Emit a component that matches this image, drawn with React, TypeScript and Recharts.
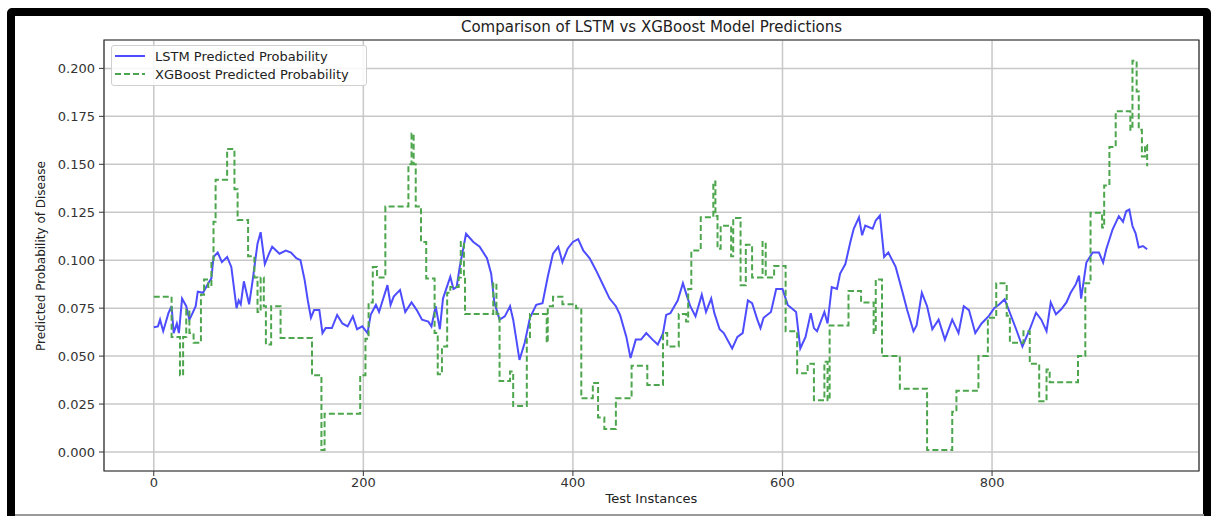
import { LineChart, Line, XAxis, YAxis, CartesianGrid, ReferenceArea } from 'recharts'

// test instance index / LSTM probability
const lstmIdx = [
  0, 4, 6, 9, 14, 17, 19, 22, 24, 27, 31, 34, 37, 40, 42, 47, 52, 55, 57, 61,
  65, 70, 74, 79, 81, 83, 86, 91, 94, 99, 102, 106, 110, 113, 120, 126, 131, 136, 140, 144,
  147, 150, 153, 158, 161, 164, 170, 175, 180, 185, 190, 194, 199, 204, 207, 212, 215, 223, 226, 229,
  235, 240, 246, 251, 256, 262, 265, 269, 273, 276, 283, 286, 289, 292, 298, 305, 311, 318, 322, 325,
  330, 335, 340, 343, 346, 349, 354, 359, 365, 371, 376, 381, 386, 390, 395, 400, 405, 410, 416, 422,
  428, 435, 441, 445, 451, 455, 460, 465, 470, 476, 481, 486, 489, 493, 500, 505, 509, 512, 517, 523,
  527, 532, 535, 540, 544, 552, 557, 562, 567, 571, 576, 579, 582, 589, 594, 600, 605, 613, 617, 622,
  627, 630, 633, 640, 643, 647, 652, 655, 660, 665, 668, 673, 676, 679, 686, 689, 693, 697, 701, 708,
  714, 719, 725, 728, 733, 738, 743, 749, 755, 762, 768, 773, 778, 784, 790, 797, 802, 807, 812, 817,
  823, 829, 836, 842, 847, 852, 856, 861, 866, 871, 875, 880, 883, 885, 890, 896, 902, 906, 909, 915,
  921, 925, 928, 931, 934, 937, 940, 944, 948,
]
const lstmProb = [
  0.065, 0.0655, 0.069, 0.063, 0.0724, 0.076, 0.062, 0.067, 0.062, 0.08, 0.076, 0.069, 0.0724, 0.076, 0.0836, 0.083, 0.088, 0.0905, 0.1017, 0.104,
  0.099, 0.1017, 0.0965, 0.075, 0.079, 0.077, 0.089, 0.077, 0.088, 0.1086, 0.1146, 0.098, 0.1034, 0.107, 0.1034, 0.105, 0.104, 0.101, 0.1, 0.0896,
  0.079, 0.07, 0.074, 0.074, 0.062, 0.0646, 0.0646, 0.0715, 0.067, 0.0655, 0.0707, 0.064, 0.0655, 0.062, 0.0715, 0.0767, 0.073, 0.087, 0.0767, 0.081,
  0.0845, 0.073, 0.078, 0.074, 0.069, 0.068, 0.0655, 0.076, 0.064, 0.08, 0.0914, 0.085, 0.086, 0.0965, 0.1138, 0.1095, 0.107, 0.101, 0.093, 0.078,
  0.069, 0.0707, 0.076, 0.069, 0.0586, 0.048, 0.057, 0.07, 0.0767, 0.0776, 0.0914, 0.1034, 0.107, 0.099, 0.106, 0.1095, 0.111, 0.105, 0.101, 0.0948,
  0.088, 0.08, 0.076, 0.0715, 0.06, 0.049, 0.0586, 0.0586, 0.062, 0.0586, 0.056, 0.062, 0.0715, 0.0724, 0.079, 0.088, 0.081, 0.076, 0.0707, 0.082,
  0.073, 0.08, 0.0724, 0.064, 0.062, 0.054, 0.06, 0.062, 0.079, 0.0776, 0.069, 0.0646, 0.07, 0.073, 0.085, 0.085, 0.0767, 0.073, 0.054, 0.06,
  0.0724, 0.0646, 0.063, 0.073, 0.067, 0.086, 0.085, 0.093, 0.098, 0.11, 0.1164, 0.1224, 0.113, 0.118, 0.1164, 0.1207, 0.1233, 0.1017, 0.104, 0.0965,
  0.0845, 0.074, 0.063, 0.066, 0.083, 0.076, 0.064, 0.069, 0.0586, 0.069, 0.062, 0.076, 0.074, 0.062, 0.067, 0.071, 0.075, 0.077, 0.0796, 0.0726,
  0.064, 0.055, 0.064, 0.0726, 0.069, 0.063, 0.078, 0.0718, 0.0744, 0.078, 0.083, 0.0875, 0.092, 0.08, 0.0988, 0.104, 0.104, 0.0988, 0.1057, 0.116,
  0.123, 0.12, 0.1255, 0.1264, 0.1178, 0.114, 0.1066, 0.1074, 0.1057,
]

// XGBoost output is piecewise constant: index where each level starts
const xgbIdx = [
  0, 17, 25, 28, 31, 34, 38, 45, 48, 52, 55, 57, 59, 70, 77, 80, 90, 96, 99, 102,
  105, 107, 112, 121, 151, 160, 163, 197, 202, 205, 209, 213, 221, 243, 246, 248, 250, 255, 260, 268,
  271, 275, 280, 283, 291, 293, 296, 297, 324, 327, 330, 340, 343, 356, 359, 375, 376, 381, 390, 403,
  408, 419, 424, 430, 441, 456, 471, 486, 490, 501, 508, 510, 513, 522, 534, 536, 538, 541, 551, 553,
  560, 565, 571, 581, 584, 592, 603, 614, 624, 630, 640, 643, 645, 663, 675, 687, 689, 695, 712, 738,
  762, 766, 787, 796, 804, 814, 817, 830, 836, 845, 852, 855, 882, 889, 894, 905, 907, 912, 918, 932,
  934, 938, 940, 943, 946, 948,
]
const xgbProb = [
  0.081, 0.06, 0.04, 0.06, 0.074, 0.062, 0.057, 0.082, 0.09, 0.086, 0.1, 0.12, 0.142, 0.158, 0.137, 0.121, 0.102, 0.091, 0.073, 0.091,
  0.076, 0.056, 0.076, 0.0595, 0.04, 0.001, 0.02, 0.04, 0.059, 0.078, 0.0965, 0.091, 0.128, 0.15, 0.166, 0.15, 0.128, 0.1095, 0.0905, 0.062,
  0.0405, 0.055, 0.083, 0.086, 0.091, 0.1095, 0.091, 0.072, 0.088, 0.072, 0.037, 0.042, 0.024, 0.06, 0.072, 0.057, 0.076, 0.081, 0.077, 0.075,
  0.028, 0.036, 0.018, 0.012, 0.028, 0.045, 0.035, 0.062, 0.055, 0.072, 0.068, 0.085, 0.105, 0.1224, 0.141, 0.123, 0.106, 0.118, 0.102, 0.122,
  0.087, 0.108, 0.091, 0.1095, 0.091, 0.097, 0.063, 0.041, 0.046, 0.027, 0.047, 0.027, 0.066, 0.084, 0.078, 0.062, 0.09, 0.05, 0.033, 0.001,
  0.021, 0.032, 0.05, 0.07, 0.088, 0.071, 0.057, 0.063, 0.046, 0.0265, 0.043, 0.0364, 0.05, 0.088, 0.1247, 0.117, 0.139, 0.159, 0.1776, 0.168,
  0.204, 0.188, 0.168, 0.154, 0.16, 0.149,
]

const xTicks = [0, 200, 400, 600, 800]
const yTicks = [0, 0.025, 0.05, 0.075, 0.1, 0.125, 0.15, 0.175, 0.2]
const seriesNames = ['LSTM Predicted Probability', 'XGBoost Predicted Probability']

const lstmData = lstmIdx.map((x, i) => ({ x, lstm: lstmProb[i] }))
const xgbData = xgbIdx.map((x, i) => ({ x, xgb: xgbProb[i] }))

const xDomain: [number, number] = [-47.5, 997.5]
const yDomain: [number, number] = [-0.0099, 0.2148]

const font = '"DejaVu Sans", sans-serif'
const blue = '#4d4dff'
const green = '#4da64d'

function LegendBox() {
  return (
    <div
      style={{
        position: 'absolute',
        left: 111,
        top: 45,
        width: 254,
        height: 38,
        background: 'rgba(255,255,255,0.85)',
        border: '1px solid #d0d0d0',
        borderRadius: 3,
        fontFamily: font,
        fontSize: 13,
        color: '#222',
        paddingTop: 1,
      }}
    >
      <div style={{ display: 'flex', alignItems: 'center', height: 18 }}>
        <svg width={40} height={6} style={{ marginLeft: 3 }}>
          <line x1={0} y1={3} x2={30} y2={3} stroke={blue} strokeWidth={2} />
        </svg>
        <span>{seriesNames[0]}</span>
      </div>
      <div style={{ display: 'flex', alignItems: 'center', height: 18 }}>
        <svg width={40} height={6} style={{ marginLeft: 3 }}>
          <line x1={0} y1={3} x2={30} y2={3} stroke={green} strokeWidth={2} strokeDasharray="6 3" />
        </svg>
        <span>{seriesNames[1]}</span>
      </div>
    </div>
  )
}

export default function App() {
  return (
    <div style={{ position: 'fixed', left: 0, top: 0, width: 1212, height: 516, overflow: 'hidden', background: '#fff' }}>
      {/* black frame of the screenshot */}
      <div
        style={{
          position: 'absolute',
          left: 7,
          top: 8,
          width: 1204,
          height: 600,
          border: '8px solid #000',
          borderRadius: 5,
          boxSizing: 'border-box',
        }}
      />
      <div style={{ position: 'absolute', left: 15, top: 514, width: 1189, height: 2, background: '#9a9a9a' }} />

      <div
        style={{
          position: 'absolute',
          left: 104,
          width: 1095,
          top: 18,
          textAlign: 'center',
          fontFamily: font,
          fontSize: 15,
          color: '#222',
        }}
      >
        Comparison of LSTM vs XGBoost Model Predictions
      </div>

      <div style={{ position: 'absolute', left: 0, top: 0 }}>
        <LineChart width={1212} height={516} margin={{ top: 40, right: 13, bottom: 15, left: 44 }}>
          <CartesianGrid stroke="#c8c8c8" strokeWidth={1.5} />
          <XAxis
            type="number"
            dataKey="x"
            domain={xDomain}
            allowDataOverflow
            ticks={xTicks}
            height={30}
            axisLine={false}
            tickLine={{ stroke: '#333' }}
            tickSize={5}
            tick={{ fontFamily: font, fontSize: 13, fill: '#333' }}
          />
          <YAxis
            type="number"
            domain={yDomain}
            allowDataOverflow
            ticks={yTicks}
            width={60}
            axisLine={false}
            tickLine={{ stroke: '#333' }}
            tickSize={5}
            tickMargin={4}
            tickFormatter={(v: number) => v.toFixed(3)}
            tick={{ fontFamily: font, fontSize: 13, fill: '#333' }}
          />
          <ReferenceArea
            x1={xDomain[0]}
            x2={xDomain[1]}
            y1={yDomain[0]}
            y2={yDomain[1]}
            fill="none"
            fillOpacity={0}
            stroke="#333"
            strokeWidth={1.2}
            ifOverflow="visible"
          />
          <Line
            data={lstmData}
            dataKey="lstm"
            name={seriesNames[0]}
            type="linear"
            stroke={blue}
            strokeWidth={2}
            dot={false}
            isAnimationActive={false}
          />
          <Line
            data={xgbData}
            dataKey="xgb"
            name={seriesNames[1]}
            type="stepAfter"
            stroke={green}
            strokeWidth={2}
            strokeDasharray="6 3"
            dot={false}
            isAnimationActive={false}
          />
        </LineChart>
      </div>

      <LegendBox />

      <div
        style={{
          position: 'absolute',
          left: 104,
          width: 1095,
          top: 491,
          textAlign: 'center',
          fontFamily: font,
          fontSize: 13,
          color: '#222',
        }}
      >
        Test Instances
      </div>
      <div
        style={{
          position: 'absolute',
          left: 41,
          top: 256,
          transform: 'translate(-50%, -50%) rotate(-90deg)',
          whiteSpace: 'nowrap',
          fontFamily: font,
          fontSize: 12,
          color: '#222',
        }}
      >
        Predicted Probability of Disease
      </div>
    </div>
  )
}
